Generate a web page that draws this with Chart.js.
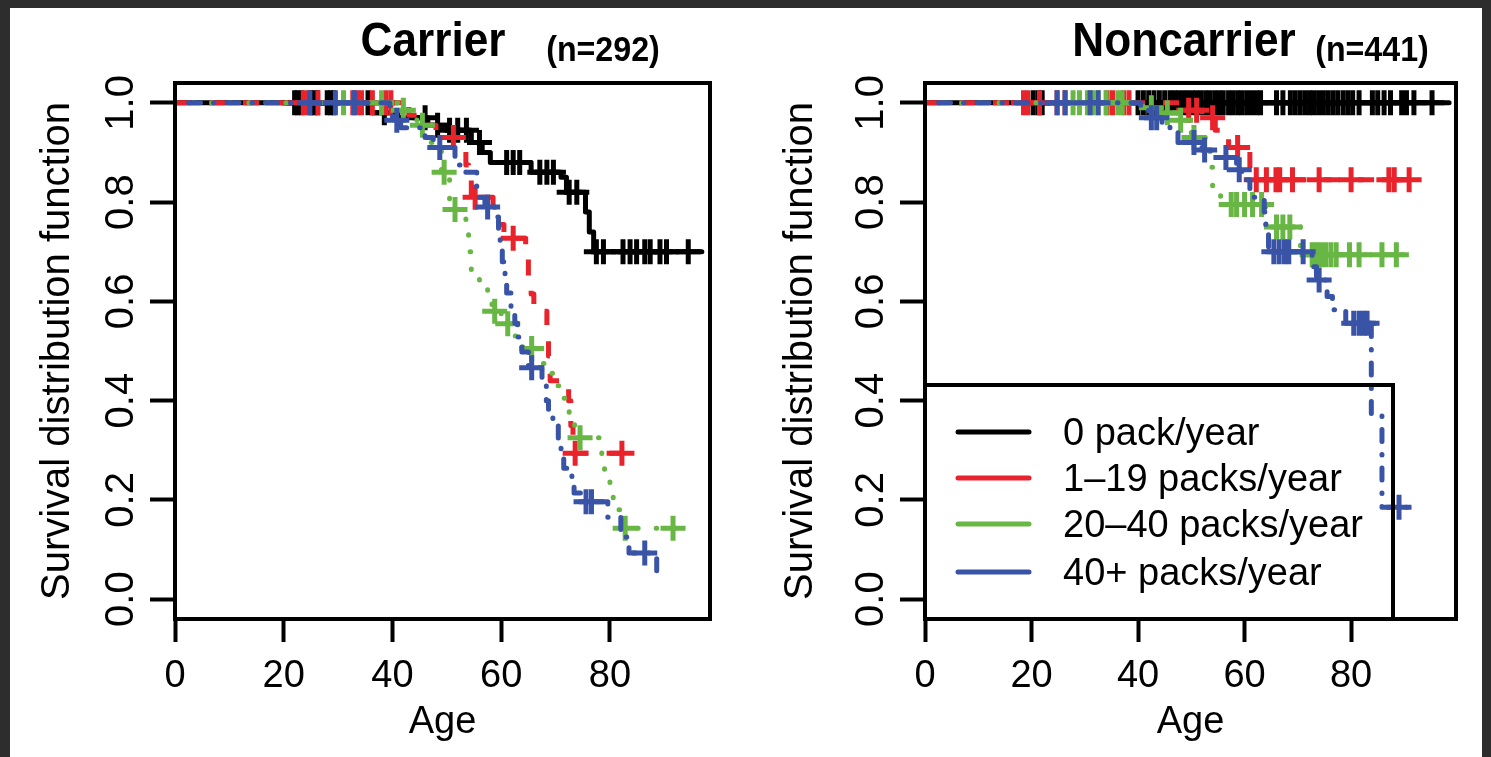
<!DOCTYPE html>
<html><head><meta charset="utf-8">
<script src="https://cdn.jsdelivr.net/npm/chart.js@4.4.1/dist/chart.umd.min.js"></script>
<style>
html,body{margin:0;padding:0;background:#2d2d2d;width:1491px;height:757px;overflow:hidden;}
#paper{position:absolute;left:10px;top:8px;width:1472px;height:749px;background:#fff;}
canvas{position:absolute;top:0;}
.t{position:absolute;font-family:'Liberation Sans',Arial,sans-serif;font-weight:bold;color:#000;white-space:nowrap;line-height:1;transform-origin:center;}
</style></head><body>
<div id="paper"></div>
<canvas id="c1" width="745" height="757" style="left:0px"></canvas>
<canvas id="c2" width="746" height="757" style="left:745px"></canvas>
<div class="t" id="t1" style="left:433px;top:16px;font-size:48px;transform:translateX(-50%) scaleX(0.92)"></div>
<div class="t" id="n1" style="left:603px;top:31px;font-size:35px;transform:translateX(-50%) scaleX(0.92)"></div>
<div class="t" id="t2" style="left:1184px;top:16px;font-size:48px;transform:translateX(-50%) scaleX(0.92)"></div>
<div class="t" id="n2" style="left:1372px;top:31px;font-size:35px;transform:translateX(-50%) scaleX(0.92)"></div>
<script>
// ---------- text ----------
const panelTitles = ['Carrier', 'Noncarrier'];
const panelCounts = ['(n=292)', '(n=441)'];
const xTitle = 'Age';
const yTitle = 'Survival distribution function';
const xTickValues = [0, 20, 40, 60, 80];
const xTickLabels = ['0', '20', '40', '60', '80'];
const yTickValues = [0, 0.2, 0.4, 0.6, 0.8, 1.0];
const yTickLabels = ['0.0', '0.2', '0.4', '0.6', '0.8', '1.0'];
const groupLabels = ['0 pack/year', '1\u201319 packs/year', '20\u201340 packs/year', '40+ packs/year'];

// ---------- Carrier (n=292) ----------
const carBlackTime = [0, 36, 41, 46.5, 50, 54.5, 56.5, 58, 65.5, 71, 72, 75.5, 76.2, 77, 96.9];
const carBlackSurv = [1, 0.98, 0.97, 0.955, 0.945, 0.92, 0.90, 0.88, 0.86, 0.85, 0.82, 0.78, 0.74, 0.70, 0.70];
const carBlackCens = [22, 22.5, 23.2, 25, 25.6, 26.2, 28, 28.6, 29.2, 35.5, 38.5, 46, 48.3, 50.5, 52, 53.6, 56, 61, 62.2, 63.4, 67.1, 68.4, 69.6, 72.5, 73.9, 77.5, 78.8, 82.4, 83.7, 84.9, 86.4, 87.4, 89.2, 90.4, 94.4];

const carRedTime = [0, 43, 45, 48, 53, 53.5, 54, 54.5, 58.5, 59.5, 60.5, 64.5, 65, 65.5, 66, 68.4, 68.7, 69, 72.4, 72.8, 73.2, 84.5];
const carRedSurv = [1, 0.975, 0.955, 0.93, 0.905, 0.875, 0.845, 0.81, 0.78, 0.755, 0.727, 0.69, 0.65, 0.615, 0.58, 0.535, 0.49, 0.44, 0.40, 0.35, 0.294, 0.294];
const carRedCens = [23.6, 24.4, 26.3, 32.7, 33.5, 34.3, 36.3, 38.8, 39.7, 51.2, 55.2, 62.2, 73.6, 82.2];

const carGreenTime = [0, 41, 43, 44.5, 47, 49, 50.5, 53.5, 54, 54.5, 56, 57.5, 58.3, 60, 62, 64, 67.5, 69.3, 70.3, 71.3, 72.5, 73.5, 78.5, 79, 80, 80.6, 82.5, 93.8];
const carGreenSurv = [1, 0.985, 0.97, 0.955, 0.92, 0.86, 0.785, 0.75, 0.70, 0.65, 0.63, 0.60, 0.58, 0.555, 0.53, 0.505, 0.475, 0.455, 0.43, 0.405, 0.37, 0.325, 0.29, 0.25, 0.215, 0.18, 0.143, 0.143];
const carGreenCens = [31, 38, 42, 45.5, 49.5, 51.5, 58.8, 61.2, 65.6, 74.5, 82.8, 91.6];

const carBlueTime = [0, 39.5, 40, 41.5, 46, 47.5, 51.5, 53.5, 55.5, 57, 58.8, 59.5, 59.8, 60.2, 60.7, 61, 61.8, 62.5, 63, 63.8, 65, 67.5, 68.3, 68.7, 69.5, 70.5, 71, 71.5, 73, 73.4, 75.3, 79.6, 82, 83.5, 88.6];
const carBlueSurv = [1, 0.985, 0.965, 0.95, 0.93, 0.91, 0.875, 0.86, 0.81, 0.79, 0.77, 0.74, 0.715, 0.68, 0.643, 0.617, 0.587, 0.556, 0.528, 0.498, 0.466, 0.435, 0.40, 0.375, 0.35, 0.32, 0.294, 0.264, 0.24, 0.214, 0.196, 0.165, 0.125, 0.093, 0.052];
const carBlueCens = [24.8, 29.5, 33, 40.8, 48.7, 57.5, 65.6, 75.6, 76.6, 86.4];

// ---------- Noncarrier (n=441) ----------
const nonBlackTime = [0, 98.4];
const nonBlackSurv = [1, 1];
const nonBlackCens = [20.3, 21.2, 22, 40, 41, 42, 43, 44, 45, 46, 46.8, 47.6, 48.5, 49.3, 50.2, 51, 51.8, 52.7, 53.5, 54.4, 55.2, 56, 57, 57.8, 58.7, 59.5, 60.4, 61.3, 62.2, 63, 66, 67.2, 68.6, 69.5, 70.4, 71.3, 72.2, 73, 73.9, 74.8, 75.7, 76.6, 77.5, 78.5, 79.4, 80.3, 81.5, 84, 85, 86.2, 87.4, 89.5, 90.4, 91.8, 95.2];

const nonRedTime = [0, 48, 52, 54.5, 57, 61, 93.3];
const nonRedSurv = [1, 0.985, 0.97, 0.945, 0.91, 0.845, 0.845];
const nonRedCens = [18.5, 19.3, 21.5, 24.8, 26.3, 34.2, 35.2, 37.3, 38.3, 49.5, 51, 54, 58.7, 62.2, 64.1, 65.9, 66.6, 69, 74, 80, 87.1, 88.1, 90.9];

const nonGreenTime = [0, 41, 44, 47, 50, 53.5, 54, 55.5, 64, 70.5, 91.5];
const nonGreenSurv = [1, 0.99, 0.98, 0.965, 0.93, 0.87, 0.83, 0.795, 0.75, 0.694, 0.694];
const nonGreenCens = [27.8, 29, 30.5, 31.5, 32.5, 34, 36.2, 37, 42.5, 45.5, 48, 50.5, 57.5, 58.5, 60, 61.5, 63.2, 66, 67.2, 68.5, 72.7, 73.5, 74.3, 75.2, 76.2, 77.2, 79.7, 81.5, 85.8, 88.5];

const nonBlueTime = [0, 40.5, 42, 44.5, 46, 47.5, 52, 53.7, 58.5, 59.5, 61, 63.7, 64, 64.5, 72.7, 73.5, 75.5, 76.5, 79, 83.8, 85.8, 91.5];
const nonBlueSurv = [1, 0.985, 0.97, 0.955, 0.94, 0.92, 0.905, 0.89, 0.865, 0.845, 0.81, 0.78, 0.75, 0.70, 0.67, 0.643, 0.61, 0.583, 0.556, 0.37, 0.185, 0.185];
const nonBlueCens = [24.8, 26.3, 31, 32.5, 42.5, 43.5, 50.5, 52.5, 56.5, 59, 65.5, 66.5, 67.5, 68.3, 71, 74, 80.5, 81.5, 82.3, 83, 89];

// ---------- styles ----------
const groupColors = ['#000000', '#e8232b', '#68b745', '#3953a6'];
const groupDash = [[], [16, 18], [0.5, 18], [0.5, 13, 12, 13]];
const groupCap = ['round', 'butt', 'round', 'round'];

document.getElementById('t1').textContent = panelTitles[0];
document.getElementById('n1').textContent = panelCounts[0];
document.getElementById('t2').textContent = panelTitles[1];
document.getElementById('n2').textContent = panelCounts[1];

Chart.defaults.font.family = "'Liberation Sans', Arial, sans-serif";
Chart.defaults.color = '#000';

function stepAt(times, surv, t) {
  let v = surv[0];
  for (let i = 0; i < times.length; i++) { if (times[i] <= t) v = surv[i]; }
  return v;
}

function buildDatasets(groups) {
  const ds = [];
  groups.forEach((g, gi) => {
    ds.push({
      type: 'line', label: groupLabels[gi],
      data: g.t.map((t, i) => ({x: t, y: g.s[i]})),
      stepped: true, borderColor: groupColors[gi], borderWidth: 5,
      borderDash: groupDash[gi], borderCapStyle: groupCap[gi], borderJoinStyle: 'round',
      pointRadius: 0, fill: false, tension: 0, order: 2 * (3 - gi) + 1
    });
    ds.push({
      type: 'scatter', label: groupLabels[gi] + ' censored',
      data: g.c.map(t => ({x: t, y: stepAt(g.t, g.s, t)})),
      showLine: false, pointStyle: 'cross', pointRadius: 12.5, pointBorderWidth: 5,
      borderColor: groupColors[gi], backgroundColor: groupColors[gi], borderWidth: 5,
      order: 2 * (3 - gi)
    });
  });
  return ds;
}

const boxPlugin = {
  id: 'box',
  afterDraw(chart) {
    const a = chart.chartArea, ctx = chart.ctx;
    ctx.save();
    ctx.strokeStyle = '#000'; ctx.lineWidth = 4; ctx.setLineDash([]);
    ctx.strokeRect(a.left, a.top, a.right - a.left, a.bottom - a.top);
    ctx.restore();
  }
};

const legendPlugin = {
  id: 'rlegend',
  afterDraw(chart, args, opts) {
    if (!opts.show) return;
    const a = chart.chartArea, ctx = chart.ctx;
    const left = a.left, bottom = a.bottom, top = bottom - 234, right = left + 468;
    ctx.save();
    ctx.strokeStyle = '#000'; ctx.lineWidth = 4; ctx.setLineDash([]);
    ctx.strokeRect(left, top, right - left, bottom - top);
    const rows = [47, 93, 139, 187];
    ctx.font = "38px 'Liberation Sans', Arial, sans-serif";
    ctx.textBaseline = 'middle'; ctx.textAlign = 'left';
    groupLabels.forEach((lab, i) => {
      const y = top + rows[i];
      ctx.strokeStyle = groupColors[i]; ctx.lineWidth = 5; ctx.lineCap = 'round';
      ctx.beginPath(); ctx.moveTo(left + 33, y); ctx.lineTo(left + 104, y); ctx.stroke();
      ctx.fillStyle = '#000';
      ctx.fillText(lab, left + 138, y + 3);
    });
    ctx.restore();
  }
};

function makeChart(id, groups, xMax, yAxisWidth, yTitlePad, rightPad, showLegend) {
  return new Chart(document.getElementById(id), {
    data: {datasets: buildDatasets(groups)},
    plugins: [boxPlugin, legendPlugin],
    options: {
      responsive: false, animation: false, devicePixelRatio: 1, events: [],
      layout: {padding: {top: 83, right: rightPad, left: 0, bottom: 0}},
      plugins: {legend: {display: false}, tooltip: {enabled: false}, rlegend: {show: showLegend}},
      scales: {
        x: {
          type: 'linear', position: 'bottom', min: 0, max: xMax,
          afterBuildTicks: s => { s.ticks = xTickValues.map(v => ({value: v})); },
          afterFit: s => { s.height = 138; },
          ticks: {padding: 12, font: {size: 38}, color: '#000', autoSkip: false, maxRotation: 0, minRotation: 0,
                  callback: (v, i) => xTickLabels[i]},
          grid: {drawOnChartArea: false, drawTicks: true, tickLength: 23, tickWidth: 4, tickColor: '#000'},
          border: {display: false},
          title: {display: true, text: xTitle, font: {size: 38, lineHeight: 1}, padding: {top: 0, bottom: 15}, color: '#000'}
        },
        y: {
          type: 'linear', position: 'left', min: -0.04, max: 1.04,
          afterBuildTicks: s => { s.ticks = yTickValues.map(v => ({value: v})); },
          afterFit: s => { s.width = yAxisWidth; },
          ticks: {minRotation: 90, maxRotation: 90, crossAlign: 'center', padding: 0, font: {size: 40}, color: '#000',
                  autoSkip: false, callback: (v, i) => yTickLabels[i]},
          grid: {drawOnChartArea: false, drawTicks: true, tickLength: 25, tickWidth: 4, tickColor: '#000'},
          border: {display: false},
          title: {display: true, text: yTitle, font: {size: 40, lineHeight: 1}, padding: {top: yTitlePad, bottom: 0}, color: '#000'}
        }
      }
    }
  });
}

makeChart('c1', [
  {t: carBlackTime, s: carBlackSurv, c: carBlackCens},
  {t: carRedTime, s: carRedSurv, c: carRedCens},
  {t: carGreenTime, s: carGreenSurv, c: carGreenCens},
  {t: carBlueTime, s: carBlueSurv, c: carBlueCens}
], 98.4, 175, 38, 35, false);

makeChart('c2', [
  {t: nonBlackTime, s: nonBlackSurv, c: nonBlackCens},
  {t: nonRedTime, s: nonRedSurv, c: nonRedCens},
  {t: nonGreenTime, s: nonGreenSurv, c: nonGreenCens},
  {t: nonBlueTime, s: nonBlueSurv, c: nonBlueCens}
], 99.7, 180, 36, 35, true);
</script>
</body></html>
